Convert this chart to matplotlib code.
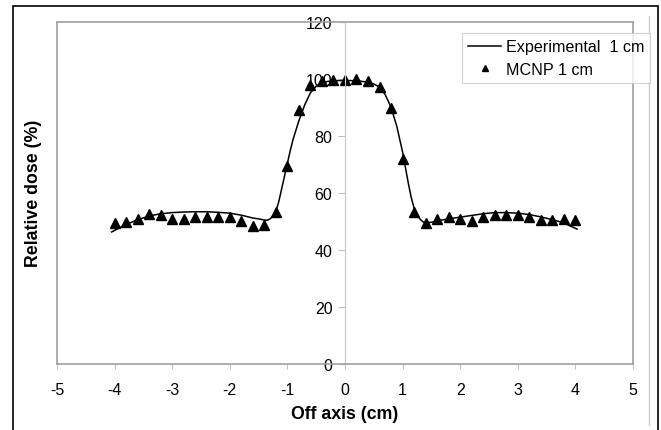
import matplotlib
matplotlib.use("Agg")
import matplotlib.pyplot as plt
from matplotlib.patches import Rectangle
from matplotlib.lines import Line2D

plt.rcParams['font.family'] = ['Liberation Sans', 'DejaVu Sans']
plt.rcParams['axes.unicode_minus'] = False

# Perfil fuera de eje medido (curva continua)
x_exp = [-4.05, -3.9, -3.8, -3.6, -3.4, -3.2, -3.0, -2.8, -2.6, -2.4, -2.2, -2.0,
         -1.8, -1.6, -1.5, -1.4, -1.35, -1.3, -1.25, -1.2, -1.15, -1.1, -1.05, -1.0,
         -0.95, -0.9, -0.8, -0.7, -0.6, -0.5, -0.4, -0.3, -0.2, -0.1, 0.0, 0.1, 0.2,
         0.3, 0.4, 0.5, 0.6, 0.7, 0.8, 0.9, 1.0, 1.05, 1.1, 1.15, 1.2, 1.25, 1.3,
         1.35, 1.4, 1.5, 1.6, 1.8, 2.0, 2.2, 2.4, 2.6, 2.8, 3.0, 3.2, 3.4, 3.6, 3.8,
         3.9, 4.03]
dosis_exp = [46.4, 48.0, 49.0, 50.7, 52.0, 52.8, 53.2, 53.4, 53.5, 53.5, 53.3, 53.0,
             52.3, 51.3, 51.0, 50.6, 50.5, 51.0, 52.0, 53.5, 57.0, 61.5, 66.0, 70.5,
             75.0, 79.0, 85.5, 91.0, 95.3, 97.6, 98.8, 99.3, 99.5, 99.6, 99.6, 99.6,
             99.5, 99.3, 99.0, 98.4, 97.3, 94.6, 90.2, 83.5, 74.5, 69.0, 63.5, 58.5,
             54.8, 52.5, 51.0, 50.0, 49.6, 49.8, 50.3, 51.0, 51.6, 52.2, 52.8, 53.2,
             53.2, 53.0, 52.5, 51.7, 50.7, 49.6, 48.6, 47.4]

# Resultados de la simulacion MCNP
x_mcnp = [-4.0, -3.8, -3.6, -3.4, -3.2, -3.0, -2.8, -2.6, -2.4, -2.2, -2.0, -1.8,
          -1.6, -1.4, -1.2, -1.0, -0.8, -0.6, -0.4, -0.2, 0.0, 0.2, 0.4, 0.6, 0.8,
          1.0, 1.2, 1.4, 1.6, 1.8, 2.0, 2.2, 2.4, 2.6, 2.8, 3.0, 3.2, 3.4, 3.6, 3.8, 4.0]
dosis_mcnp = [49.5, 50.0, 50.9, 52.6, 52.3, 51.1, 51.1, 51.5, 51.8, 51.8, 51.5, 50.3,
              48.5, 48.8, 53.3, 69.4, 89.2, 97.9, 99.6, 99.8, 99.8, 100.2, 99.5, 97.4,
              90.0, 71.9, 53.4, 49.4, 51.1, 51.5, 50.9, 50.1, 51.8, 52.3, 52.3, 52.3,
              51.5, 50.6, 50.6, 51.1, 50.6]

xticks = [-5, -4, -3, -2, -1, 0, 1, 2, 3, 4, 5]
yticks = [0, 20, 40, 60, 80, 100, 120]

gris = '#a0a0a0'

fig = plt.figure(figsize=(6.61, 4.31), dpi=100)
ax = fig.add_axes([0.0862, 0.1531, 0.8714, 0.7924])

ax.plot(x_exp, dosis_exp, color='black', lw=1.1, label='Experimental  1 cm')
ax.plot(x_mcnp, dosis_mcnp, ls='none', marker='^', ms=6.5, color='black',
        label='MCNP 1 cm')

ax.set_xlim(-5, 5)
ax.set_ylim(0, 120)
ax.set_xticks(xticks)
ax.set_yticks(yticks)

# eje vertical cruzando en x=0, marco del area de trazado en gris
ax.spines['left'].set_position(('data', 0))
ax.spines['left'].set_color('#c8c8c8')
ax.spines['left'].set_linewidth(0.8)
for lado in ['top', 'right', 'bottom']:
    ax.spines[lado].set_color(gris)
    ax.spines[lado].set_linewidth(1.2)
ax.plot([0, 0], [0, 1], transform=ax.transAxes, color=gris, lw=1.2, clip_on=False)

ax.tick_params(axis='x', direction='out', length=3.6, width=0.8, color='#c0c0c0',
               pad=9.4, labelsize=11.5)
ax.tick_params(axis='y', direction='out', length=5, width=0.8, color='#c0c0c0',
               pad=4.0, labelsize=11.5)

ax.set_xlabel('Off axis (cm)', fontsize=12.8, fontweight='bold', labelpad=6)
fig.text(0.051, 0.551, 'Relative dose (%)', rotation=90, fontsize=12.8,
         fontweight='bold', ha='center', va='center')

leyenda = fig.legend(loc='upper left', bbox_to_anchor=(0.699, 0.921), fontsize=11.6,
                     frameon=True, fancybox=False, handlelength=2.0, handletextpad=0.3,
                     borderpad=0.4, labelspacing=0.45, borderaxespad=0,
                     markerscale=0.7)
leyenda.get_frame().set_edgecolor('#c8c8c8')
leyenda.get_frame().set_linewidth(0.8)

# marco exterior del grafico
fig.patches.append(Rectangle((0.0197, -0.02), 0.9758, 1.0026, transform=fig.transFigure,
                             fill=False, edgecolor='black', lw=1.2))
fig.lines.append(Line2D([649 / 661, 649 / 661], [1 - 17 / 431, 1 - 426 / 431],
                        transform=fig.transFigure, color='#d0d0d0', lw=1.0))

plt.savefig('out.png', dpi=100)
